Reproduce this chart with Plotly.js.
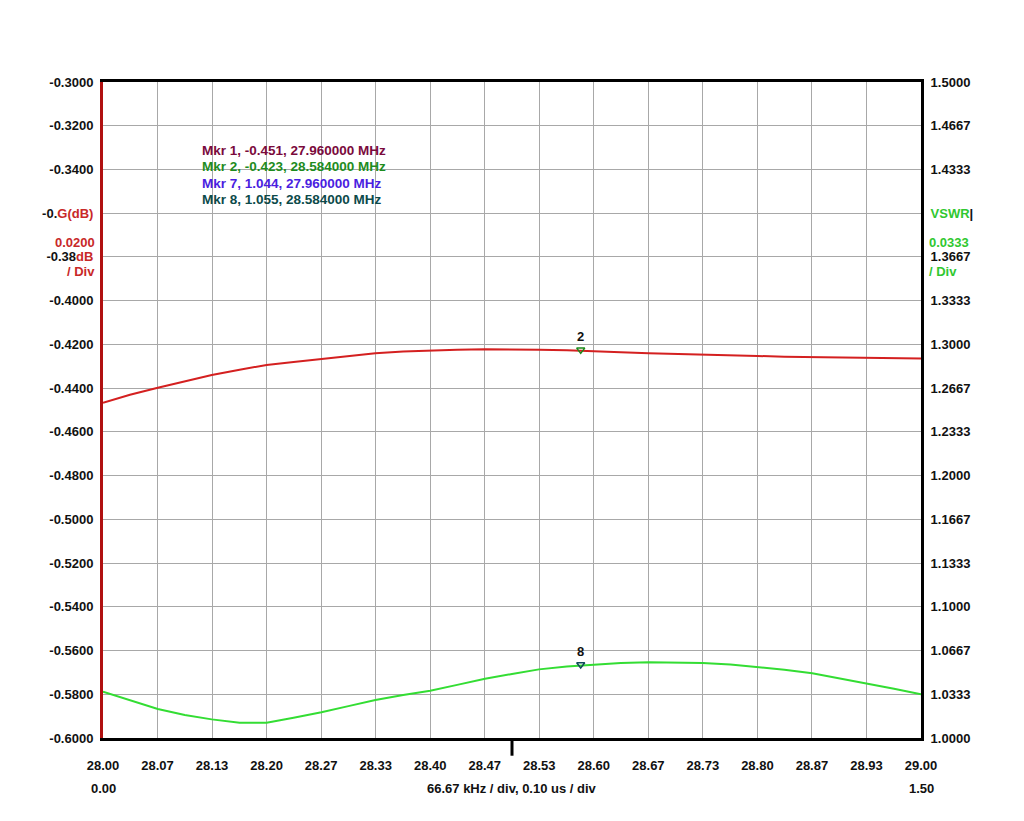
<!DOCTYPE html>
<html><head><meta charset="utf-8">
<script src="https://cdn.plot.ly/plotly-3.0.1.min.js"></script>
<style>body{margin:0;background:#fff}#c{width:1024px;height:821px}</style>
</head><body><div id="c"></div>
<script>
const freq = [28.000,28.033,28.067,28.100,28.133,28.167,28.200,28.233,28.267,28.300,28.333,28.367,28.400,28.433,28.467,28.500,28.533,28.567,28.600,28.633,28.667,28.700,28.733,28.767,28.800,28.833,28.867,28.900,28.933,28.967,29.000];
const gainDb = [-0.4467,-0.4430,-0.4398,-0.4368,-0.4340,-0.4316,-0.4294,-0.4280,-0.4267,-0.4253,-0.4241,-0.4233,-0.4227,-0.4224,-0.4222,-0.4222,-0.4224,-0.4227,-0.4233,-0.4236,-0.4240,-0.4244,-0.4246,-0.4250,-0.4253,-0.4256,-0.4258,-0.4261,-0.4263,-0.4264,-0.4265];
const vswr = [1.0353,1.0287,1.0221,1.0175,1.0142,1.0116,1.0117,1.0155,1.0196,1.0243,1.0290,1.0327,1.0360,1.0405,1.0452,1.0488,1.0523,1.0545,1.0561,1.0572,1.0577,1.0577,1.0572,1.0561,1.0543,1.0520,1.0493,1.0455,1.0417,1.0375,1.0333];
const markerFreq = [28.584];
const markerGain = [-0.4225];
const markerVswr = [1.0560];
const markerGainLabel = ['2'];
const markerVswrLabel = ['8'];
const xTickLabels = ['28.00','28.07','28.13','28.20','28.27','28.33','28.40','28.47','28.53','28.60','28.67','28.73','28.80','28.87','28.93','29.00'];
const yLeftTickLabels = ['-0.3000','-0.3200','-0.3400','-0.3600','-0.3800','-0.4000','-0.4200','-0.4400','-0.4600','-0.4800','-0.5000','-0.5200','-0.5400','-0.5600','-0.5800','-0.6000'];
const yRightTickLabels = ['1.5000','1.4667','1.4333','1.4000','1.3667','1.3333','1.3000','1.2667','1.2333','1.2000','1.1667','1.1333','1.1000','1.0667','1.0333','1.0000'];
const markerTexts = ['Mkr 1, -0.451, 27.960000 MHz','Mkr 2, -0.423, 28.584000 MHz','Mkr 7, 1.044, 27.960000 MHz','Mkr 8, 1.055, 28.584000 MHz'];
const markerTextColors = ['#7a0a3c','#1e8c1e','#4a1ee0','#0c4a4a'];

const RED = '#d42020', GREEN = '#33dd33', RTXT = '#c82828', GTXT = '#30c830';
const xTickVals = xTickLabels.map((_, i) => 28 + i / 15);
const yLTickVals = yLeftTickLabels.map((_, i) => -0.3 - i * 0.02);
const yRTickVals = yRightTickLabels.map((_, i) => 1.5 - i / 30);
const yLText = yLeftTickLabels.slice();
yLText[3] = "-0.<span style='color:" + RTXT + "'>G(dB)</span>";
yLText[4] = "-0.38<span style='color:" + RTXT + "'>dB</span>";
const yRText = yRightTickLabels.slice();
yRText[3] = "<span style='color:" + GTXT + "'>VSWR</span>|";

const tf = {family: 'Liberation Sans, Arial, sans-serif', size: 13, color: '#111', weight: 'bold'};
const mf = Object.assign({}, tf, {size: 13.5});

const traces = [
  {x: freq, y: gainDb, mode: 'lines', line: {color: RED, width: 2}, yaxis: 'y', hoverinfo: 'skip'},
  {x: freq, y: vswr, mode: 'lines', line: {color: GREEN, width: 2}, yaxis: 'y2', hoverinfo: 'skip'},
  {x: markerFreq, y: markerGain, mode: 'markers+text', text: markerGainLabel, textposition: 'top center',
   textfont: tf, marker: {symbol: 'triangle-down-open', size: 7, color: '#1a8a1a', line: {width: 1.5}}, yaxis: 'y'},
  {x: markerFreq, y: markerVswr, mode: 'markers+text', text: markerVswrLabel, textposition: 'top center',
   textfont: tf, marker: {symbol: 'triangle-down-open', size: 7, color: '#104a5a', line: {width: 1.5}}, yaxis: 'y2'}
];

const ann = markerTexts.map((t, i) => ({
  xref: 'paper', yref: 'paper', x: 0.119, y: 0.895 - i * 0.0245, xanchor: 'left', yanchor: 'middle',
  text: t, showarrow: false, font: Object.assign({}, mf, {color: markerTextColors[i]})
}));
ann.push(
  {xref: 'paper', yref: 'paper', x: 0, xshift: -6, y: 0.756, xanchor: 'right', yanchor: 'middle', text: '0.0200', showarrow: false, font: Object.assign({}, tf, {color: RTXT})},
  {xref: 'paper', yref: 'paper', x: 0, xshift: -6, y: 0.711, xanchor: 'right', yanchor: 'middle', text: '/ Div', showarrow: false, font: Object.assign({}, tf, {color: RTXT})},
  {xref: 'paper', yref: 'paper', x: 1, xshift: 6, y: 0.756, xanchor: 'left', yanchor: 'middle', text: '0.0333', showarrow: false, font: Object.assign({}, tf, {color: GTXT})},
  {xref: 'paper', yref: 'paper', x: 1, xshift: 6, y: 0.711, xanchor: 'left', yanchor: 'middle', text: '/ Div', showarrow: false, font: Object.assign({}, tf, {color: GTXT})},
  {xref: 'paper', yref: 'paper', x: 0, y: 0, yshift: -50, xanchor: 'center', yanchor: 'middle', text: '0.00', showarrow: false, font: tf},
  {xref: 'paper', yref: 'paper', x: 0.5, y: 0, yshift: -50, xanchor: 'center', yanchor: 'middle', text: '66.67 kHz / div, 0.10 us / div', showarrow: false, font: tf},
  {xref: 'paper', yref: 'paper', x: 1, y: 0, yshift: -50, xanchor: 'center', yanchor: 'middle', text: '1.50', showarrow: false, font: tf}
);

const layout = {
  width: 1024, height: 821,
  margin: {l: 103, r: 103, t: 82, b: 83},
  paper_bgcolor: '#fff', plot_bgcolor: '#fff',
  showlegend: false,
  xaxis: {range: [28, 29], tickvals: xTickVals, ticktext: xTickLabels, showgrid: true, gridcolor: '#a8a8a8', gridwidth: 1,
    zeroline: false, showline: true, linecolor: '#000', linewidth: 3, mirror: true,
    ticks: 'outside', ticklen: 13, tickcolor: 'rgba(0,0,0,0)', tickfont: tf},
  yaxis: {range: [-0.6, -0.3], tickvals: yLTickVals, ticktext: yLText, showgrid: true, gridcolor: '#a8a8a8', gridwidth: 1,
    zeroline: false, showline: true, linecolor: '#b01010', linewidth: 3,
    ticks: 'outside', ticklen: 4, tickcolor: 'rgba(0,0,0,0)', tickfont: tf},
  yaxis2: {range: [1.0, 1.5], overlaying: 'y', side: 'right', tickvals: yRTickVals, ticktext: yRText, showgrid: false,
    zeroline: false, showline: true, linecolor: '#000', linewidth: 3,
    ticks: 'outside', ticklen: 4, tickcolor: 'rgba(0,0,0,0)', tickfont: tf},
  annotations: ann,
  shapes: [{type: 'line', xref: 'paper', yref: 'paper', x0: 0.5, x1: 0.5, y0: 0, y1: -0.027, line: {color: '#000', width: 3}}]
};

Plotly.newPlot('c', traces, layout, {staticPlot: true});
</script></body></html>
